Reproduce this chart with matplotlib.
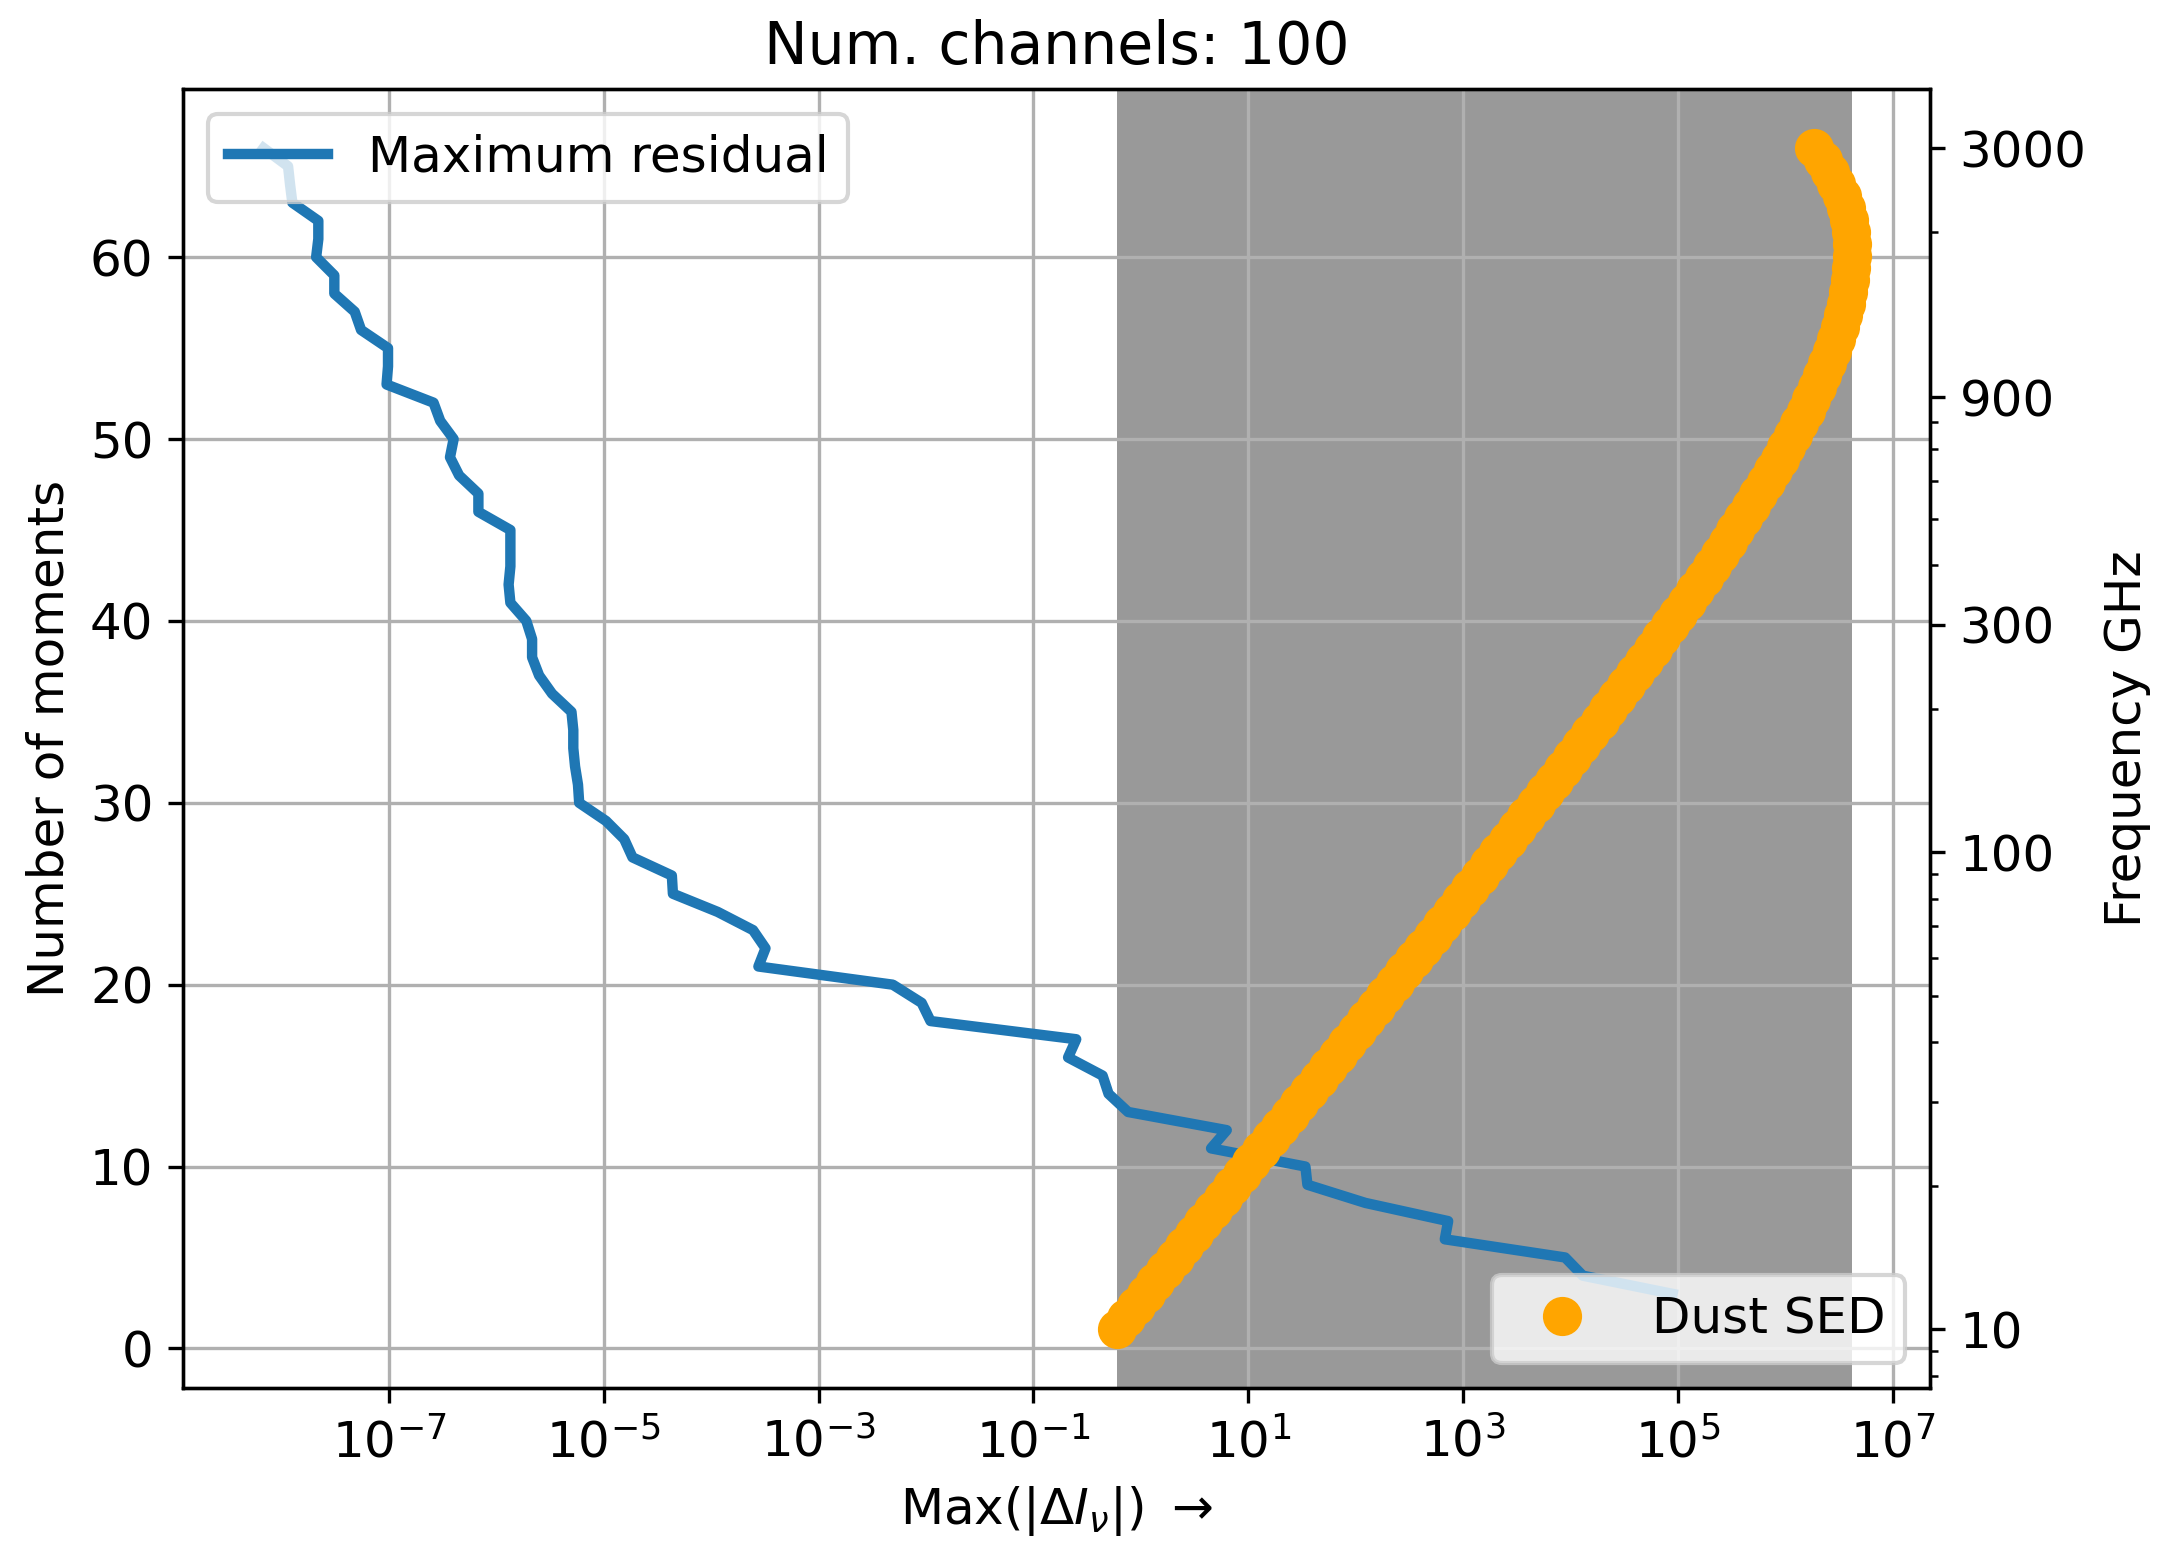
import numpy as np
import matplotlib
matplotlib.use('Agg')
import matplotlib.pyplot as plt
from matplotlib.ticker import NullFormatter, NullLocator

# number of moments vs max residual
n_moments = [66, 65, 64, 63, 62, 61, 60, 59, 58, 57, 56, 55, 54, 53, 52, 51, 50,
             49, 48, 47, 46, 45, 44, 43, 42, 41, 40, 39, 38, 37, 36, 35, 34, 33,
             32, 31, 30, 29, 28, 27, 26, 25, 24, 23, 22, 21, 20, 19, 18, 17, 16,
             15, 14, 13, 12, 11, 10, 9, 8, 7, 6, 5, 4, 3]
max_resid = [6.8e-9, 1.15e-8, 1.2e-8, 1.26e-8, 2.2e-8, 2.2e-8, 2.1e-8, 3.1e-8,
             3.1e-8, 4.8e-8, 5.5e-8, 9.8e-8, 9.8e-8, 9.5e-8, 2.6e-7, 3.0e-7,
             4.0e-7, 3.7e-7, 4.5e-7, 6.8e-7, 6.8e-7, 1.35e-6, 1.35e-6, 1.35e-6,
             1.3e-6, 1.35e-6, 1.9e-6, 2.15e-6, 2.15e-6, 2.5e-6, 3.3e-6, 5.0e-6,
             5.2e-6, 5.2e-6, 5.4e-6, 5.75e-6, 5.9e-6, 1.05e-5, 1.55e-5, 1.85e-5,
             4.3e-5, 4.4e-5, 1.15e-4, 2.45e-4, 3.2e-4, 2.75e-4, 4.9e-3, 9.1e-3,
             1.1e-2, 0.25, 0.21, 0.44, 0.50, 0.76, 6.3, 4.5, 34, 35.5, 123, 725,
             675, 8900, 1.3e4, 8.9e4]

# dust SED sampled on the 100 channels (GHz)
freq = [10, 10.59, 11.22, 11.89, 12.59, 13.34, 14.13, 14.97, 15.86, 16.8,
        17.79, 18.85, 19.96, 21.15, 22.4, 23.73, 25.14, 26.63, 28.21, 29.88,
        31.65, 33.53, 35.52, 37.63, 39.86, 42.22, 44.73, 47.38, 50.19, 53.16,
        56.32, 59.66, 63.2, 66.94, 70.91, 75.12, 79.57, 84.29, 89.29, 94.59,
        100.2, 106.1, 112.4, 119.1, 126.1, 133.6, 141.5, 149.9, 158.8, 168.2,
        178.2, 188.7, 199.9, 211.8, 224.3, 237.6, 251.7, 266.6, 282.4, 299.2,
        316.9, 335.7, 355.6, 376.6, 399.0, 422.6, 447.7, 474.2, 502.3, 532.1,
        563.6, 597.0, 632.4, 669.9, 709.6, 751.7, 796.2, 843.4, 893.4, 946.4,
        1002, 1062, 1125, 1191, 1262, 1337, 1416, 1500, 1589, 1683,
        1783, 1888, 2000, 2119, 2244, 2377, 2518, 2668, 2826, 3000]
sed = [0.596, 0.732, 0.901, 1.11, 1.36, 1.67, 2.06, 2.53, 3.11, 3.82,
       4.69, 5.77, 7.09, 8.71, 10.7, 13.1, 16.1, 19.8, 24.4, 29.9,
       36.7, 45.1, 55.3, 67.9, 83.3, 102, 125, 154, 188, 231,
       283, 347, 425, 521, 637, 780, 954, 1.17e3, 1.43e3, 1.74e3,
       2.13e3, 2.6e3, 3.18e3, 3.87e3, 4.72e3, 5.76e3, 7.01e3, 8.53e3, 1.04e4, 1.26e4,
       1.53e4, 1.86e4, 2.25e4, 2.73e4, 3.3e4, 3.99e4, 4.81e4, 5.8e4, 6.99e4, 8.4e4,
       1.01e5, 1.21e5, 1.45e5, 1.73e5, 2.06e5, 2.45e5, 2.9e5, 3.43e5, 4.05e5, 4.77e5,
       5.6e5, 6.54e5, 7.63e5, 8.85e5, 1.02e6, 1.18e6, 1.35e6, 1.54e6, 1.74e6, 1.96e6,
       2.19e6, 2.44e6, 2.69e6, 2.94e6, 3.19e6, 3.42e6, 3.64e6, 3.83e6, 3.99e6, 4.1e6,
       4.16e6, 4.16e6, 4.07e6, 3.88e6, 3.63e6, 3.33e6, 2.98e6, 2.6e6, 2.22e6, 1.85e6]

freq_ticks = [10, 100, 300, 900, 3000]
n_chan = 100

plt.rcParams['font.size'] = 12

fig = plt.figure(figsize=(2170 / 300, 1547 / 300), dpi=300)
ax = fig.add_axes([0.0842, 0.1025, 0.8054, 0.84])

ax.axvspan(min(sed), max(sed), color='k', alpha=0.4, lw=0, zorder=1)
ax.plot(max_resid, n_moments, color='#1f77b4', lw=2.5, label='Maximum residual')
ax.set_xscale('log')
ax.set_xlim(10 ** -8.92, 10 ** 7.35)
ax.set_ylim(-2.2, 69.25)
ax.set_xticks([10.0 ** k for k in range(-7, 8, 2)])
ax.xaxis.set_minor_locator(NullLocator())
ax.grid(True)
ax.set_xlabel(r'Max($|\Delta I_{\nu}|$) $\rightarrow$')
ax.set_ylabel('Number of moments')
ax.set_title('Num. channels: %d' % n_chan, fontsize=14)
ax.legend(loc='upper left')

ax2 = ax.twinx()
ax2.plot(sed, freq, 'o', color='orange', ms=8.4, label='Dust SED')
ax2.set_yscale('log')
ax2.set_ylim(7.52, 3990)
ax2.set_yticks(freq_ticks)
ax2.set_yticklabels([str(f) for f in freq_ticks])
ax2.yaxis.set_minor_formatter(NullFormatter())
ax2.set_ylabel('Frequency GHz')
ax2.legend(loc='lower right')

fig.savefig('out.png', dpi=300)
